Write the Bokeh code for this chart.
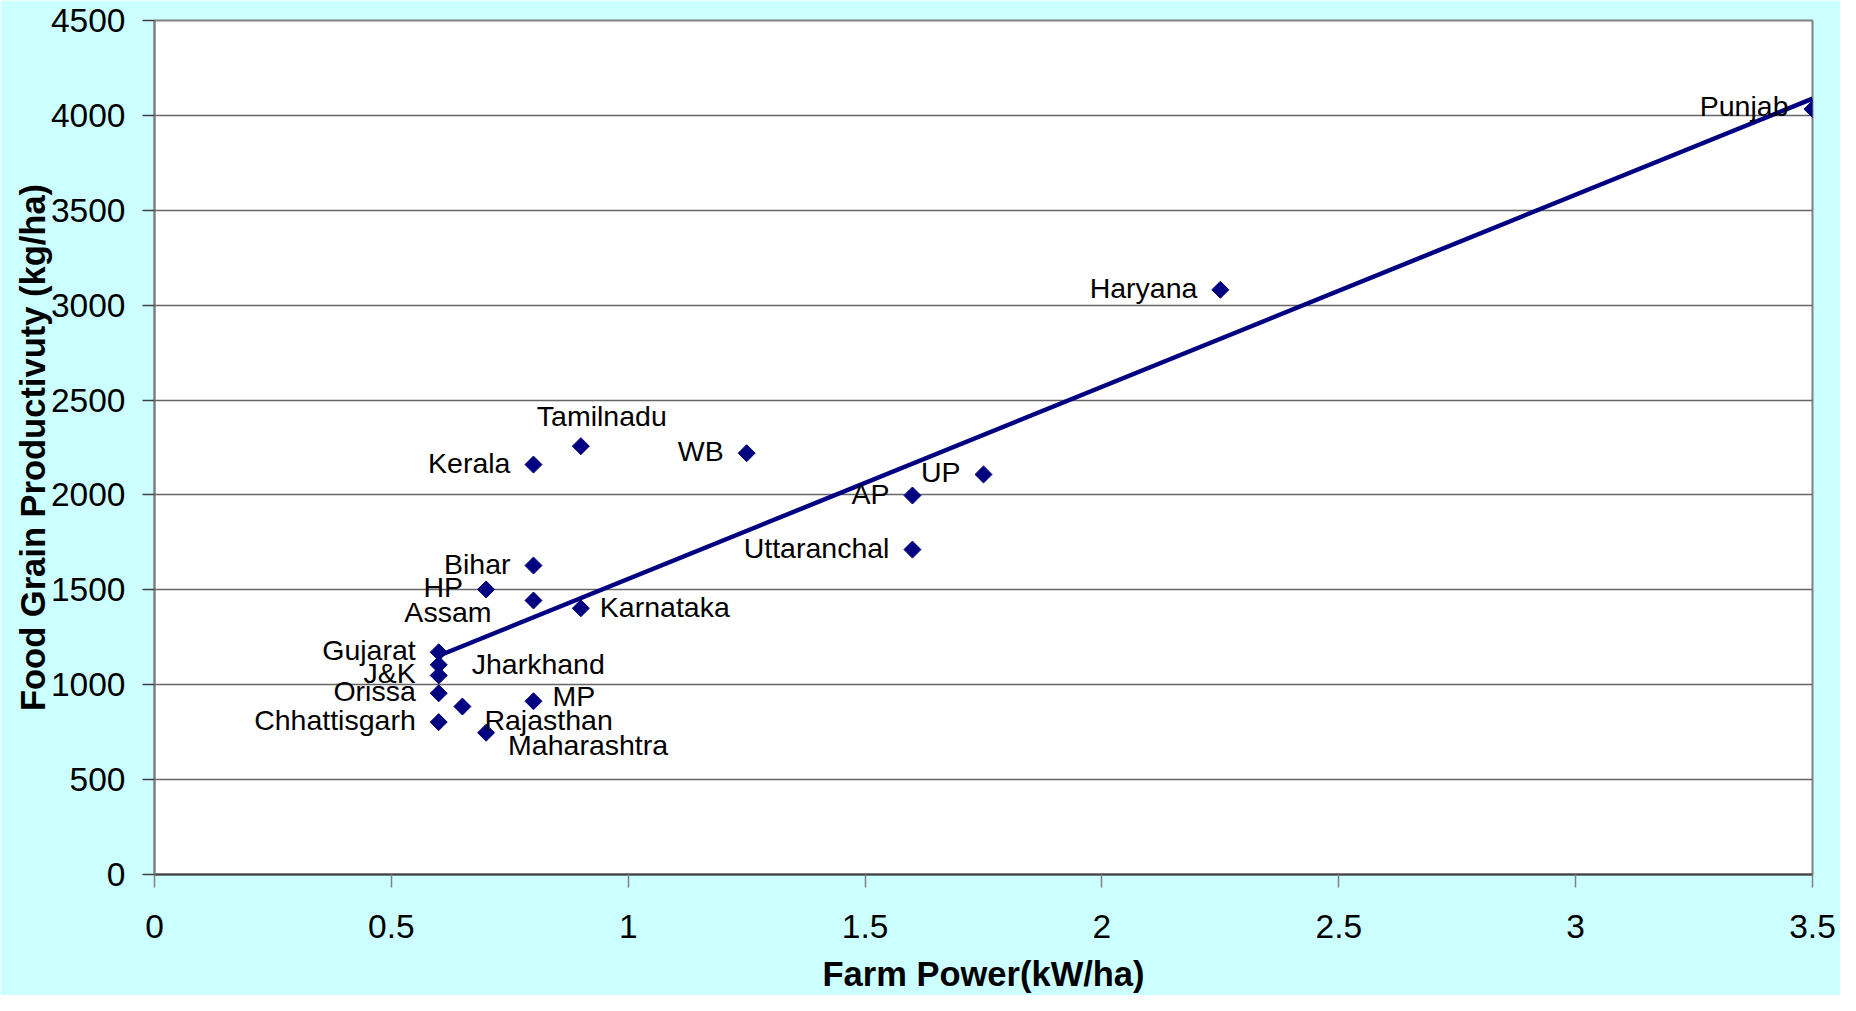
import numpy as np
from bokeh.plotting import figure
from bokeh.models import (ColumnDataSource, FixedTicker, CustomJSTickFormatter,
                          Range1d)
from bokeh.embed import file_html
from bokeh.resources import INLINE
from bokeh.core.properties import value

# ---------------- data ----------------
states = ["Punjab", "Haryana", "Tamilnadu", "WB", "Kerala", "UP", "AP",
          "Uttaranchal", "Bihar", "HP", "Assam", "Karnataka", "Gujarat",
          "Jharkhand", "J&K", "Orissa", "Rajasthan", "MP", "Chhattisgarh",
          "Maharashtra"]
farm_power = [3.5, 2.25, 0.9, 1.25, 0.8, 1.75, 1.6, 1.6, 0.8, 0.7, 0.8, 0.9,
              0.6, 0.6, 0.6, 0.6, 0.65, 0.8, 0.6, 0.7]
productivity = [4033, 3081, 2257, 2220, 2160, 2108, 1997, 1712, 1628, 1502,
                1444, 1403, 1171, 1105, 1049, 955, 885, 913, 803, 747]
x_ticks = [0, 0.5, 1, 1.5, 2, 2.5, 3, 3.5]
y_ticks = [0, 500, 1000, 1500, 2000, 2500, 3000, 3500, 4000, 4500]
x_title = "Farm Power(kW/ha)"
y_title = "Food Grain Productivuty (kg/ha)"

# label placement (screen px offsets, alignment) -- styling only
default_place = (-23, -2, "right")
label_place = {
    "Punjab": (-24, -3, "right"),
    "Tamilnadu": (-44, -30, "left"),
    "Assam": (-42, 12, "right"),
    "Karnataka": (19, -1, "left"),
    "Jharkhand": (33, -1, "left"),
    "MP": (19, -5, "left"),
    "Rajasthan": (22, 13, "left"),
    "Maharashtra": (22, 12, "left"),
}

NAVY = "#000080"
FONT = "Liberation Sans"

p = figure(width=1840, height=995,
           x_range=Range1d(0, 3.5), y_range=Range1d(0, 4500),
           output_backend="svg", toolbar_location=None,
           min_border_left=154, min_border_right=28,
           min_border_top=20, min_border_bottom=121,
           background_fill_color="white", border_fill_color="#CCFFFF")

p.outline_line_color = "#808080"
p.outline_line_width = 2

# axes
p.xaxis.ticker = FixedTicker(ticks=x_ticks)
p.yaxis.ticker = FixedTicker(ticks=y_ticks)
p.xaxis.formatter = CustomJSTickFormatter(code="return tick.toString();")
for ax in (p.xaxis[0], p.yaxis[0]):
    ax.major_label_text_font = FONT
    ax.major_label_text_font_size = "33.5px"
    ax.major_label_text_color = "black"
    ax.minor_tick_line_color = None
    ax.major_tick_in = 0
    ax.axis_label_text_font = FONT
    ax.axis_label_text_font_size = "34.5px"
    ax.axis_label_text_font_style = "bold"
    ax.axis_label_text_color = "black"

p.xaxis.axis_label = x_title
p.yaxis.axis_label = y_title
p.xaxis.major_tick_out = 13
p.yaxis.major_tick_out = 12
p.xaxis.major_label_standoff = 27
p.yaxis.major_label_standoff = 17
p.xaxis.axis_label_standoff = 14
p.yaxis.axis_label_standoff = -4
p.xaxis.axis_line_color = "#404040"
p.xaxis.axis_line_width = 2
p.xaxis.major_tick_line_color = "#808080"
p.xaxis.major_tick_line_width = 1.5
p.yaxis.axis_line_color = "#808080"
p.yaxis.axis_line_width = 2
p.yaxis.major_tick_line_color = "#404040"
p.yaxis.major_tick_line_width = 1.5

p.xgrid.grid_line_color = None
p.ygrid.grid_line_color = "#666666"
p.ygrid.grid_line_width = 1.5

# trendline (least squares, as in the original chart)
slope, intercept = np.polyfit(farm_power, productivity, 1)
tx = [min(farm_power), max(farm_power)]
ty = [slope * v + intercept for v in tx]
p.line(tx, ty, line_color=NAVY, line_width=4.5)

# points
src = ColumnDataSource(dict(x=farm_power, y=productivity, name=states))
p.scatter("x", "y", source=src, marker="square", angle=np.pi / 4, size=12,
          fill_color=NAVY, line_color=NAVY)

# labels
for align in ("right", "left"):
    idx = [i for i, s in enumerate(states)
           if label_place.get(s, default_place)[2] == align]
    lsrc = ColumnDataSource(dict(
        x=[farm_power[i] for i in idx],
        y=[productivity[i] for i in idx],
        text=[states[i] for i in idx],
        dx=[label_place.get(states[i], default_place)[0] for i in idx],
        dy=[label_place.get(states[i], default_place)[1] for i in idx],
    ))
    p.text("x", "y", text="text", source=lsrc, x_offset="dx", y_offset="dy",
           text_align=align, text_baseline="alphabetic",
           text_font=value(FONT), text_font_size="28.5px", text_color="black")

open("out.html", "w").write(file_html(p, INLINE))
